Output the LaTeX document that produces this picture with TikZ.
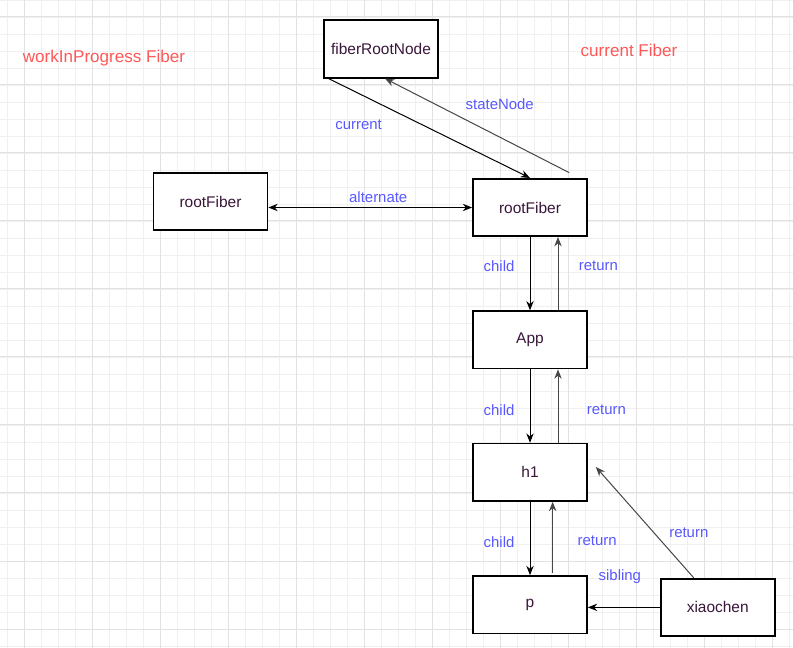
\documentclass[tikz,border=0pt]{standalone}
\usepackage{fontspec}
\setmainfont{Liberation Sans}
\usetikzlibrary{positioning,arrows.meta}

\definecolor{gridmin}{RGB}{240,240,240}
\definecolor{gridmaj}{RGB}{226,226,226}
\definecolor{boxtext}{RGB}{58,22,58}
\definecolor{labelblue}{RGB}{88,88,255}
\definecolor{titlered}{RGB}{255,88,88}
\definecolor{backline}{RGB}{70,70,70}

\tikzset{
  fiberbox/.style={draw, line width=1.3pt, fill=white, text=boxtext,
    minimum width=85.5pt, minimum height=43pt, font=\fontsize{11.6}{13}\selectfont},
  link/.style={-{Stealth[length=7pt,width=5.5pt]}, line width=.75pt},
  backlink/.style={link, draw=backline},
  lbl/.style={text=labelblue, font=\fontsize{11.2}{13}\selectfont},
  title/.style={text=titlered, font=\fontsize{12.8}{15}\selectfont},
}

\begin{document}
\begin{tikzpicture}[x=0.75pt, y=-0.75pt]
	\fill[white] (0,0) rectangle (793,648);
	\useasboundingbox (0,0) rectangle (793,648);

	% grid
	\foreach \gx in {7,24,...,793} \draw[gridmin, line width=.6pt] (\gx,0) -- (\gx,648);
	\foreach \gy in {0,17,...,648} \draw[gridmin, line width=.6pt] (0,\gy) -- (793,\gy);
	\foreach \gx in {24,92,...,793} \draw[gridmaj, line width=.75pt] (\gx,0) -- (\gx,648);
	\foreach \gy in {17,85,...,648} \draw[gridmaj, line width=.75pt] (0,\gy) -- (793,\gy);

	\node[title] (wiptitle) at (104,58) {workInProgress Fiber};
	\node[title] (curtitle) at (629,50) {current Fiber};

	\node [fiberbox] (frn) at (381,49) {fiberRootNode};

	\node [fiberbox] (rfcur) at (530,207.5) {rootFiber};

	\node [fiberbox] (rfwip) at (210.5,201.5) {rootFiber};

	\node [fiberbox, below=55pt of rfcur] (app) {App};

	\node [fiberbox, below=55pt of app] (hone) {h1};

	\node [fiberbox, below=55pt of hone] (pnode) {p};

	\node [fiberbox, right=54pt of pnode, yshift=-2pt] (xc) {xiaochen};

	\draw[link] ([xshift=4pt]frn.south west) -- (rfcur.north)
	node[lbl, midway, xshift=-53pt, yshift=3pt]{current};

	\draw[backlink] ([xshift=-14pt,yshift=4pt]rfcur.north east) -- ([xshift=3pt]frn.south)
	node[lbl, midway, xshift=17pt, yshift=16pt]{stateNode};

	\draw[{Stealth[length=7pt,width=5.5pt]}-{Stealth[length=7pt,width=5.5pt]}, line width=.75pt]
	(rfwip.east |- rfcur.west) -- (rfcur.west)
	node[lbl, midway, above, xshift=6pt]{alternate};

	\draw[link] (rfcur.south) -- (app.north)
	node[lbl, midway, left=8pt, yshift=6pt]{child};

	\draw[backlink] ([xshift=21pt]app.north) -- ([xshift=21pt]rfcur.south)
	node[lbl, midway, right=12pt, yshift=6pt]{return};

	\draw[link] (app.south) -- (hone.north)
	node[lbl, midway, left=8pt, yshift=-3pt]{child};

	\draw[backlink] ([xshift=21pt]hone.north) -- ([xshift=21pt]app.south)
	node[lbl, midway, right=18pt, yshift=-3pt]{return};

	\draw[link] (hone.south) -- (pnode.north)
	node[lbl, midway, left=8pt, yshift=-3pt]{child};

	\draw[backlink] ([xshift=17pt,yshift=2pt]pnode.north) -- ([xshift=17pt]hone.south)
	node[lbl, midway, right=15pt, yshift=-3pt]{return};

	\draw[backlink] ([xshift=-18pt]xc.north) -- ([xshift=6pt,yshift=4pt]hone.east)
	node[lbl, midway, xshift=33pt, yshift=-8pt]{return};

	\draw[link] (xc.west) -- (xc.west -| pnode.east)
	node[lbl, midway, above=14pt, xshift=-3pt]{sibling};

\end{tikzpicture}
\end{document}
